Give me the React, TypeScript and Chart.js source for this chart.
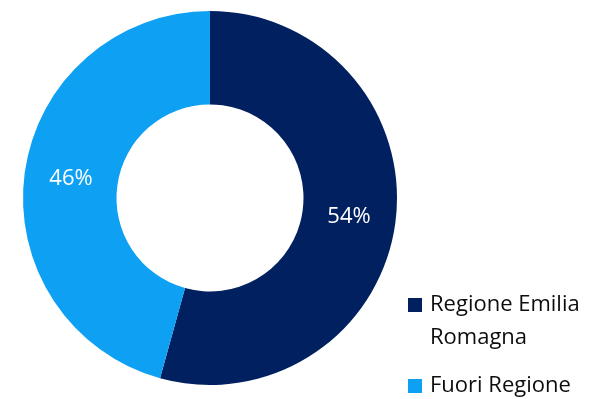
import React, { useEffect, useRef } from "react";
import { Chart, registerables } from "chart.js";

Chart.register(...registerables);

const categories = ["Regione Emilia Romagna", "Fuori Regione"];
const values = [54.3, 45.7];
const colors = ["#00205F", "#0EA0F3"];

const FONT = "'Open Sans', 'Noto Sans', sans-serif";

function wrap(ctx: CanvasRenderingContext2D, text: string, maxW: number): string[] {
  const words = text.split(" ");
  const lines: string[] = [];
  let cur = "";
  for (const w of words) {
    const t = cur ? cur + " " + w : w;
    if (ctx.measureText(t).width > maxW && cur) {
      lines.push(cur);
      cur = w;
    } else cur = t;
  }
  if (cur) lines.push(cur);
  return lines;
}

const labelPlugin = {
  id: "sliceLabels",
  afterDatasetsDraw(chart: any) {
    const ctx = chart.ctx;
    const meta = chart.getDatasetMeta(0);
    const data = chart.data.datasets[0].data as number[];
    const total = data.reduce((a, b) => a + b, 0);
    ctx.save();
    ctx.fillStyle = "#ffffff";
    ctx.font = `22px ${FONT}`;
    ctx.textAlign = "center";
    ctx.textBaseline = "middle";
    meta.data.forEach((arc: any, i: number) => {
      const p = arc.tooltipPosition();
      ctx.fillText(Math.round((data[i] / total) * 100) + "%", p.x, p.y);
    });
    ctx.restore();
  },
};

const legendPlugin = {
  id: "sideLegend",
  afterDraw(chart: any) {
    const ctx = chart.ctx;
    ctx.save();
    ctx.font = `22px ${FONT}`;
    ctx.textBaseline = "alphabetic";
    ctx.textAlign = "left";
    const boxX = 408;
    const textX = 430;
    const box = 14;
    const lineH = 33;
    let baseline = 311;
    categories.forEach((c, i) => {
      const lines = wrap(ctx, c, 590 - textX - 2);
      ctx.fillStyle = colors[i];
      ctx.fillRect(boxX, baseline - box + 1, box, box);
      ctx.fillStyle = "#0d0d0d";
      lines.forEach((ln, j) => {
        ctx.fillText(ln, textX, baseline + j * lineH);
      });
      baseline += (lines.length - 1) * lineH + 48;
    });
    ctx.restore();
  },
};

export default function App() {
  const ref = useRef<HTMLCanvasElement>(null);
  useEffect(() => {
    if (!ref.current) return;
    const chart = new Chart(ref.current, {
      type: "doughnut",
      data: {
        labels: categories,
        datasets: [
          {
            data: values,
            backgroundColor: colors,
            borderWidth: 0,
          },
        ],
      },
      options: {
        responsive: false,
        maintainAspectRatio: false,
        animation: false,
        cutout: "50%",
        layout: { padding: { left: 23, right: 193, top: 11, bottom: 14 } },
        plugins: {
          legend: { display: false },
          tooltip: { enabled: false },
        },
      },
      plugins: [labelPlugin, legendPlugin],
    });
    return () => chart.destroy();
  }, []);
  return (
    <div style={{ position: "fixed", left: 0, top: 0, width: 590, height: 399, background: "#fff" }}>
      <canvas ref={ref} width={590} height={399} style={{ display: "block" }} />
    </div>
  );
}
